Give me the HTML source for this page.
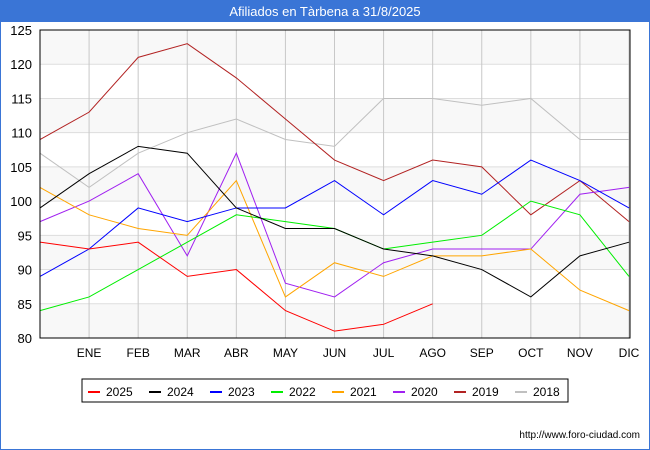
<!DOCTYPE html>
<html><head><meta charset="utf-8"><style>
body{margin:0;width:650px;height:450px;overflow:hidden;font-family:"Liberation Sans",sans-serif;background:#fff}
</style></head><body>
<svg width="650" height="450" style="display:block">
<rect x="0" y="0" width="650" height="450" fill="#fff" stroke="#3a75d6" stroke-width="2"/>
<rect x="0" y="0" width="650" height="22" fill="#3a75d6"/>
<text x="325" y="16" text-anchor="middle" fill="#fff" font-size="13">Afiliados en Tàrbena a 31/8/2025</text>
<g id="grid"></g>
<g id="lines"></g>
<rect x="40" y="30" width="590" height="308" fill="none" stroke="#000"/>
<g id="legend"></g>
<text x="640" y="438" text-anchor="end" font-size="10" fill="#000">http://www.foro-ciudad.com</text>
</svg>
<script>
const months=["","ENE","FEB","MAR","ABR","MAY","JUN","JUL","AGO","SEP","OCT","NOV","DIC"];
const yTicks=[80,85,90,95,100,105,110,115,120,125];
const seriesNames=["2025","2024","2023","2022","2021","2020","2019","2018"];
const colors=["#ff0000","#000000","#0000ff","#00ee00","#ffa500","#a020f0","#b22222","#c0c0c0"];
const s2025=[94,93,94,89,90,84,81,82,85];
const s2024=[99,104,108,107,99,96,96,93,92,90,86,92,94];
const s2023=[89,93,99,97,99,99,103,98,103,101,106,103,99];
const s2022=[84,86,90,94,98,97,96,93,94,95,100,98,89];
const s2021=[102,98,96,95,103,86,91,89,92,92,93,87,84];
const s2020=[97,100,104,92,107,88,86,91,93,93,93,101,102];
const s2019=[109,113,121,123,118,112,106,103,106,105,98,103,97];
const s2018=[107,102,107,110,112,109,108,115,115,114,115,109,109];
const allSeries=[s2025,s2024,s2023,s2022,s2021,s2020,s2019,s2018];
const NS="http://www.w3.org/2000/svg";
const X=i=>40+i*(589/12);
const Y=v=>338-(v-80)*(308/45);
function mk(t,a,p){const e=document.createElementNS(NS,t);for(const k in a)e.setAttribute(k,a[k]);p.appendChild(e);return e;}
const grid=document.getElementById('grid');
for(let i=0;i<yTicks.length-1;i++){
  if(i%2===0){const b=mk('rect',{x:40,y:Y(yTicks[i+1]),width:590,height:Y(yTicks[i])-Y(yTicks[i+1]),fill:'#f8f8f8'},grid);
  
  }
}
yTicks.forEach(v=>{
  const l=mk('line',{x1:40,x2:630,y1:Y(v),y2:Y(v),stroke:'#dddddd'},grid);
  
  
  const t=mk('text',{x:32,y:Y(v)+5,'text-anchor':'end','font-size':13,fill:'#000'},grid);
  t.textContent=v;
  
  
});
months.forEach((m,i)=>{
  if(i>0){const l=mk('line',{x1:X(i),x2:X(i),y1:30,y2:338,stroke:'#c8c8c8'},grid);
  
  }
  if(m){const t=mk('text',{x:X(i),y:357,'text-anchor':'middle','font-size':12,fill:'#000'},grid);
  t.textContent=m;
  
  }
});
const lines=document.getElementById('lines');
for(let s=allSeries.length-1;s>=0;s--){
  const pts=allSeries[s].map((v,i)=>X(i)+','+Y(v)).join(' ');
  const p=mk('polyline',{points:pts,fill:'none',stroke:colors[s],'stroke-width':1},lines);
  
  
}
const lg=document.getElementById('legend');
const box=mk('rect',{x:82,y:379,width:486,height:23,fill:'#fff',stroke:'#000'},lg);


seriesNames.forEach((n,i)=>{
  const x=88+i*61;
  const l=mk('line',{x1:x,x2:x+12,y1:392,y2:392,stroke:colors[i],'stroke-width':2},lg);
  
  
  const t=mk('text',{x:x+18,y:396,'font-size':12,fill:'#000'},lg);
  t.textContent=n;
  
  
});
</script>
</body></html>
